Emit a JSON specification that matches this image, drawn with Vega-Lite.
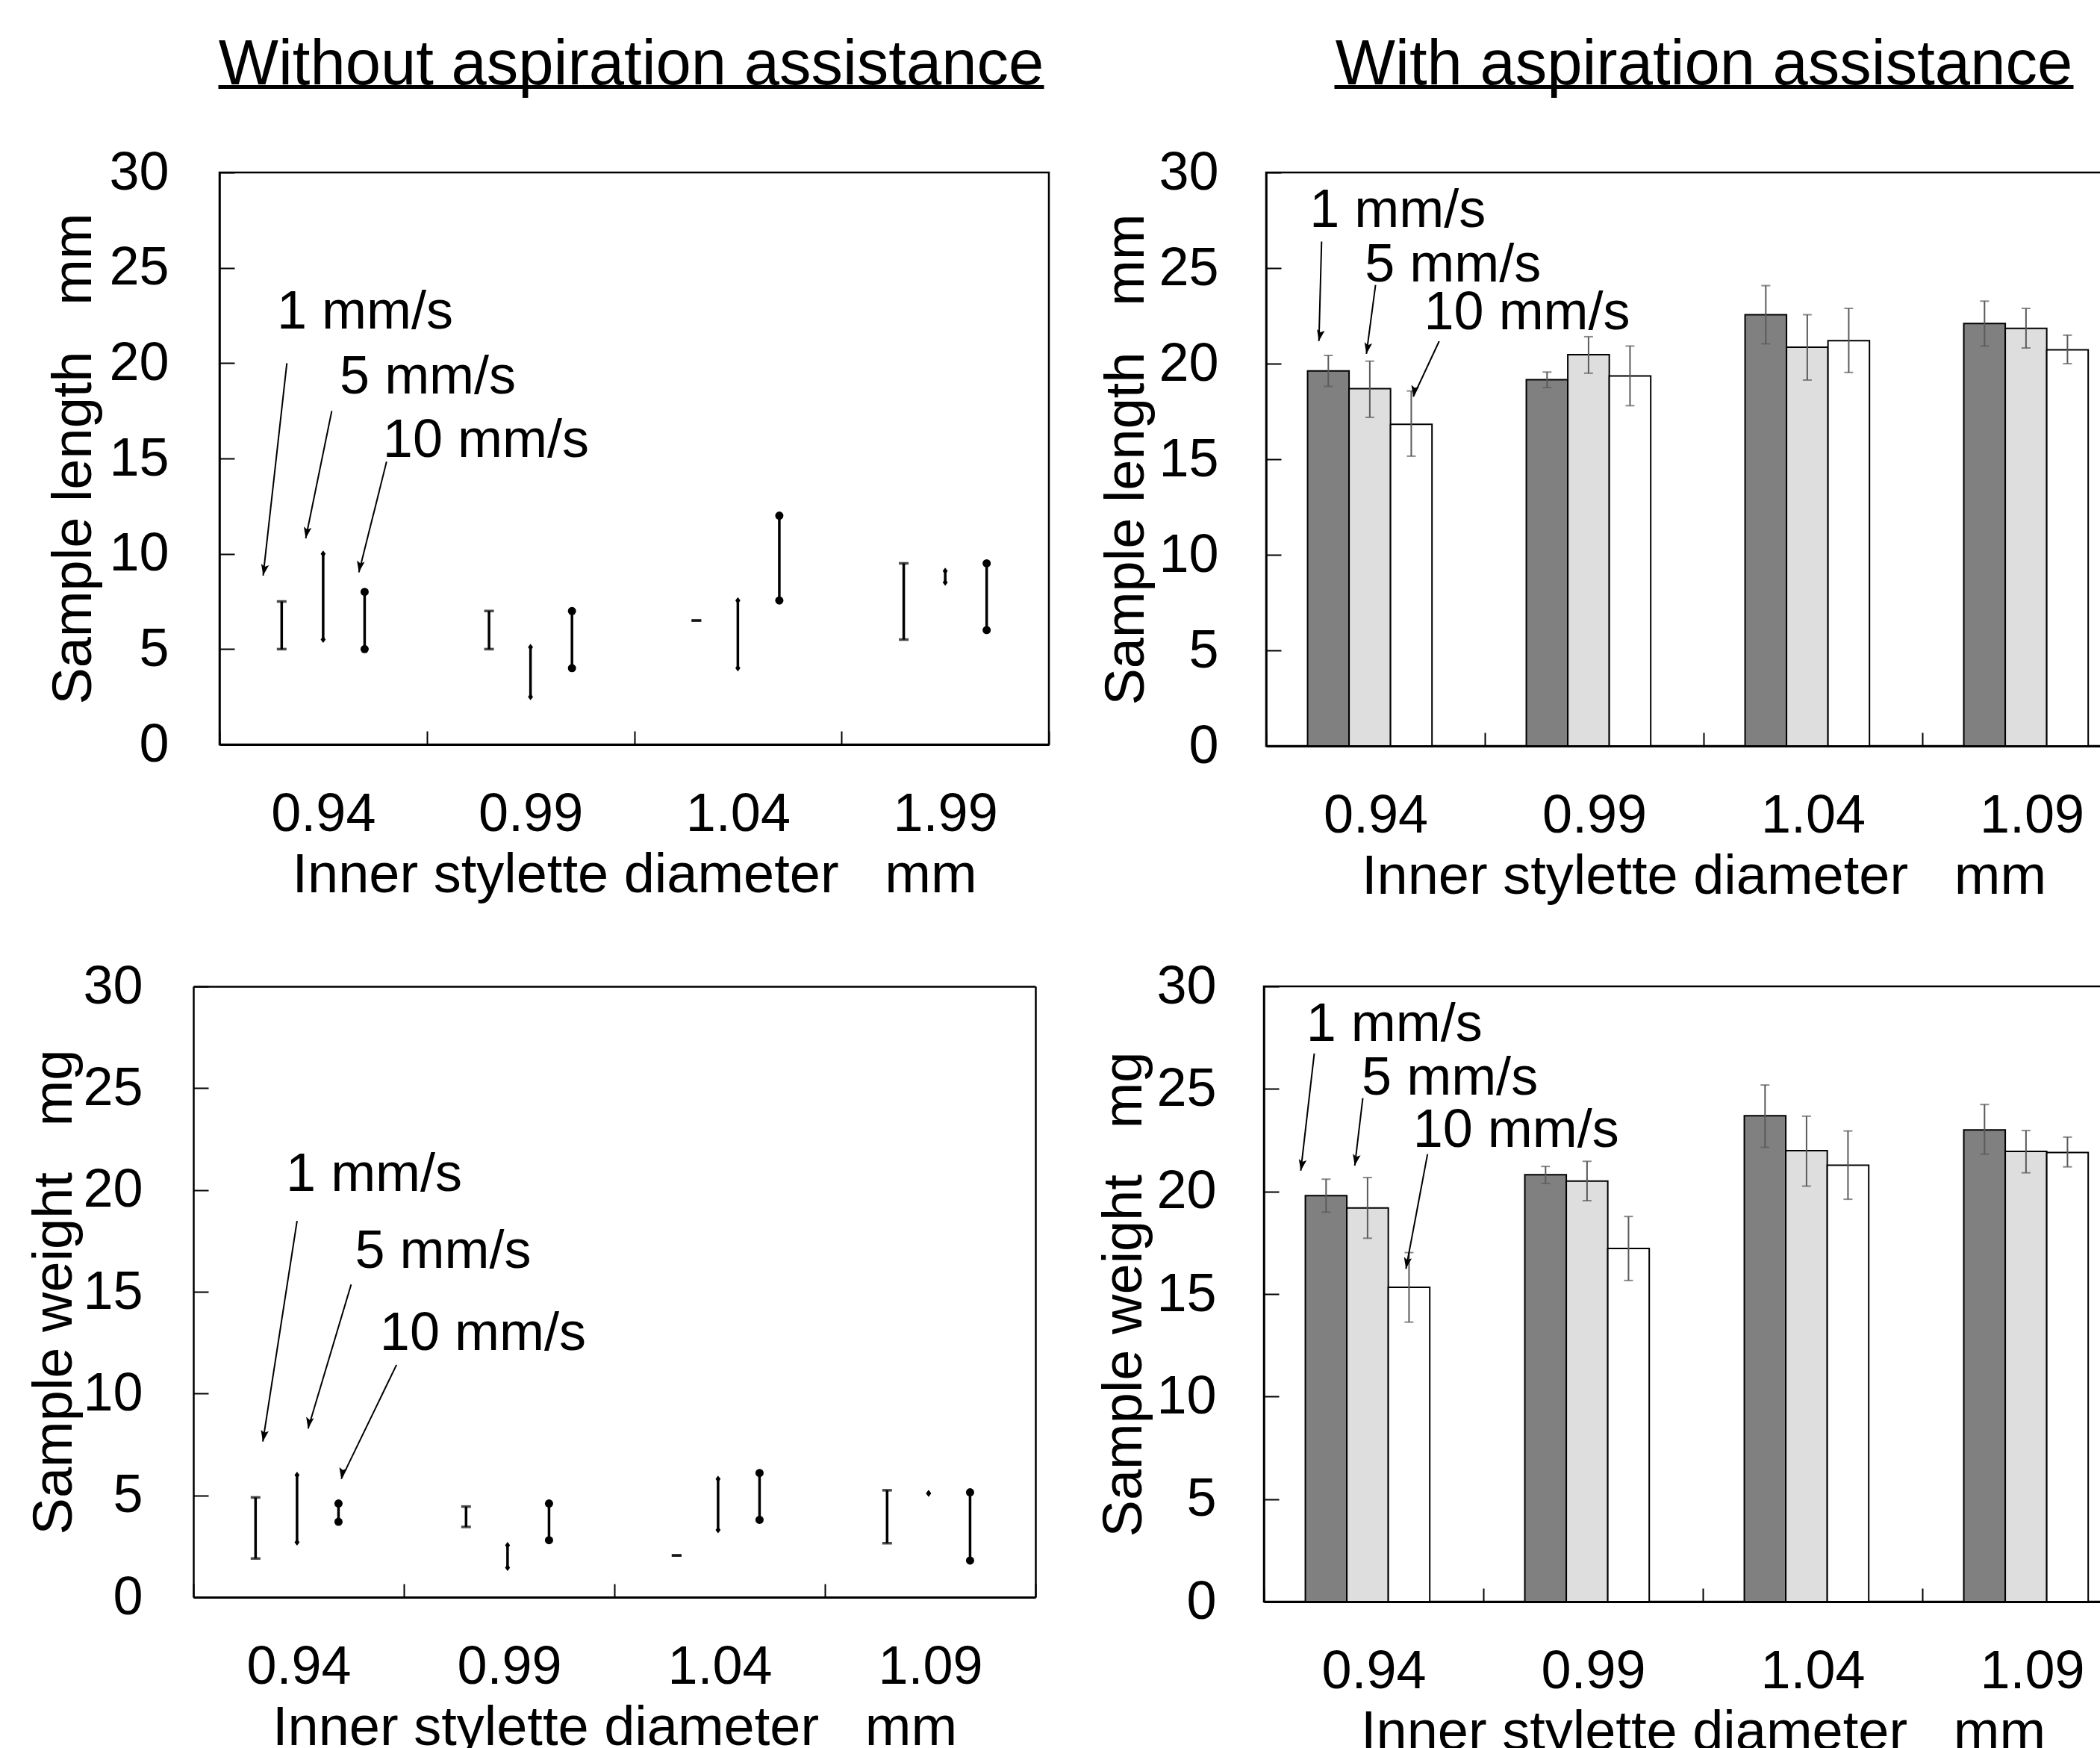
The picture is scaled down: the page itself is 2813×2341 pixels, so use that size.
{
  "$schema": "https://vega.github.io/schema/vega-lite/v6.json",
  "padding": {"left": 36, "top": 43, "right": 0, "bottom": 0},
  "background": "white",
  "datasets": {
    "lenNo": [
      {"d": "0.94", "s": 1, "lo": 5.0, "hi": 7.5},
      {"d": "0.94", "s": 5, "lo": 5.5, "hi": 10.0},
      {"d": "0.94", "s": 10, "lo": 5.0, "hi": 8.0},
      {"d": "0.99", "s": 1, "lo": 5.0, "hi": 7.0},
      {"d": "0.99", "s": 5, "lo": 2.5, "hi": 5.1},
      {"d": "0.99", "s": 10, "lo": 4.0, "hi": 7.0},
      {"d": "1.04", "s": 1, "lo": 6.5, "hi": 6.5},
      {"d": "1.04", "s": 5, "lo": 4.0, "hi": 7.55},
      {"d": "1.04", "s": 10, "lo": 7.55, "hi": 12.0},
      {"d": "1.99", "s": 1, "lo": 5.5, "hi": 9.5},
      {"d": "1.99", "s": 5, "lo": 8.5, "hi": 9.1},
      {"d": "1.99", "s": 10, "lo": 6.0, "hi": 9.5}
    ],
    "wtNo": [
      {"d": "0.94", "s": 1, "lo": 1.9, "hi": 4.9},
      {"d": "0.94", "s": 5, "lo": 2.7, "hi": 6.0},
      {"d": "0.94", "s": 10, "lo": 3.7, "hi": 4.6},
      {"d": "0.99", "s": 1, "lo": 3.45, "hi": 4.45},
      {"d": "0.99", "s": 5, "lo": 1.45, "hi": 2.55},
      {"d": "0.99", "s": 10, "lo": 2.8, "hi": 4.6},
      {"d": "1.04", "s": 1, "lo": 2.05, "hi": 2.05},
      {"d": "1.04", "s": 5, "lo": 3.3, "hi": 5.8},
      {"d": "1.04", "s": 10, "lo": 3.8, "hi": 6.1},
      {"d": "1.09", "s": 1, "lo": 2.65, "hi": 5.25},
      {"d": "1.09", "s": 5, "lo": 5.1, "hi": 5.1},
      {"d": "1.09", "s": 10, "lo": 1.8, "hi": 5.15}
    ],
    "lenWith": [
      {"d": "0.94", "s": 1, "mean": 19.62, "lo": 18.81, "hi": 20.43},
      {"d": "0.94", "s": 5, "mean": 18.69, "lo": 17.19, "hi": 20.13},
      {"d": "0.94", "s": 10, "mean": 16.83, "lo": 15.16, "hi": 18.57},
      {"d": "0.99", "s": 1, "mean": 19.16, "lo": 18.75, "hi": 19.56},
      {"d": "0.99", "s": 5, "mean": 20.47, "lo": 19.5, "hi": 21.41},
      {"d": "0.99", "s": 10, "mean": 19.36, "lo": 17.8, "hi": 20.92},
      {"d": "1.04", "s": 1, "mean": 22.56, "lo": 21.04, "hi": 24.08},
      {"d": "1.04", "s": 5, "mean": 20.86, "lo": 19.14, "hi": 22.56},
      {"d": "1.04", "s": 10, "mean": 21.2, "lo": 19.54, "hi": 22.89},
      {"d": "1.09", "s": 1, "mean": 22.1, "lo": 20.92, "hi": 23.27},
      {"d": "1.09", "s": 5, "mean": 21.85, "lo": 20.82, "hi": 22.89},
      {"d": "1.09", "s": 10, "mean": 20.72, "lo": 20.0, "hi": 21.49}
    ],
    "wtWith": [
      {"d": "0.94", "s": 1, "mean": 19.8, "lo": 18.99, "hi": 20.6},
      {"d": "0.94", "s": 5, "mean": 19.2, "lo": 17.72, "hi": 20.68},
      {"d": "0.94", "s": 10, "mean": 15.33, "lo": 13.63, "hi": 17.02},
      {"d": "0.99", "s": 1, "mean": 20.82, "lo": 20.39, "hi": 21.22},
      {"d": "0.99", "s": 5, "mean": 20.51, "lo": 19.55, "hi": 21.47},
      {"d": "0.99", "s": 10, "mean": 17.22, "lo": 15.66, "hi": 18.78},
      {"d": "1.04", "s": 1, "mean": 23.69, "lo": 22.15, "hi": 25.19},
      {"d": "1.04", "s": 5, "mean": 21.99, "lo": 20.26, "hi": 23.67},
      {"d": "1.04", "s": 10, "mean": 21.28, "lo": 19.62, "hi": 22.95},
      {"d": "1.09", "s": 1, "mean": 23.0, "lo": 21.82, "hi": 24.24},
      {"d": "1.09", "s": 5, "mean": 21.95, "lo": 20.91, "hi": 22.97},
      {"d": "1.09", "s": 10, "mean": 21.9, "lo": 21.2, "hi": 22.65}
    ],
    "annLenNo": [
      {"label": "1 mm/s", "tx": 0.277, "ty": 21.8, "ax1": 0.325, "ay1": 20.0, "ax2": 0.2105, "ay2": 8.86},
      {"label": "5 mm/s", "tx": 0.58, "ty": 18.4, "ax1": 0.5415, "ay1": 17.49, "ax2": 0.4159, "ay2": 10.81},
      {"label": "10 mm/s", "tx": 0.788, "ty": 15.08, "ax1": 0.8058, "ay1": 14.83, "ax2": 0.6722, "ay2": 9.03}
    ],
    "annWtNo": [
      {"label": "1 mm/s", "tx": 0.44, "ty": 19.96, "ax1": 0.4926, "ay1": 18.48, "ax2": 0.33, "ay2": 7.64},
      {"label": "5 mm/s", "tx": 0.768, "ty": 16.16, "ax1": 0.7496, "ay1": 15.36, "ax2": 0.545, "ay2": 8.28},
      {"label": "10 mm/s", "tx": 0.886, "ty": 12.15, "ax1": 0.965, "ay1": 11.41, "ax2": 0.7025, "ay2": 5.81}
    ],
    "annLenWith": [
      {"label": "1 mm/s", "tx": 0.199, "ty": 27.16, "ax1": 0.2536, "ay1": 26.39, "ax2": 0.2413, "ay2": 21.18},
      {"label": "5 mm/s", "tx": 0.451, "ty": 24.28, "ax1": 0.5003, "ay1": 24.12, "ax2": 0.4584, "ay2": 20.51},
      {"label": "10 mm/s", "tx": 0.722, "ty": 21.78, "ax1": 0.791, "ay1": 21.17, "ax2": 0.6727, "ay2": 18.27}
    ],
    "annWtWith": [
      {"label": "1 mm/s", "tx": 0.193, "ty": 27.36, "ax1": 0.2296, "ay1": 26.73, "ax2": 0.168, "ay2": 21.01},
      {"label": "5 mm/s", "tx": 0.446, "ty": 24.71, "ax1": 0.4507, "ay1": 24.55, "ax2": 0.414, "ay2": 21.26},
      {"label": "10 mm/s", "tx": 0.679, "ty": 22.16, "ax1": 0.7456, "ay1": 21.82, "ax2": 0.6473, "ay2": 16.23}
    ]
  },
  "spacing": 70,
  "vconcat": [
    {
      "spacing": 63,
      "hconcat": [
        {
          "width": 1111, "height": 766,
          "layer": [
            {
              "data": {"name": "lenNo"},
              "encoding": {
                "x": {"field": "d", "type": "nominal", "scale": {"domain": ["0.94", "0.99", "1.04", "1.99"], "paddingInner": 0, "paddingOuter": 0},
                  "axis": {"title": "Inner stylette diameter\u00a0\u00a0\u00a0mm", "labelAngle": 0, "labelFontSize": 72, "titleFontSize": 74, "tickBand": "extent", "tickSize": -18, "tickWidth": 2, "domainWidth": 3, "labelPadding": 76, "titlePadding": 10}},
                "xOffset": {"field": "s", "type": "nominal", "scale": {"domain": [1, 5, 10], "paddingInner": 0, "paddingOuter": 1.1}}
              },
              "layer": [
                {"mark": {"type": "rule", "color": "black", "strokeWidth": 3.5},
                 "encoding": {"y": {"field": "lo", "type": "quantitative", "scale": {"domain": [0, 30]},
                   "axis": {"values": [0, 5, 10, 15, 20, 25, 30], "title": "Sample length\u00a0\u00a0\u00a0mm", "labelFontSize": 72, "titleFontSize": 74, "tickSize": -20, "tickWidth": 2, "domainWidth": 2.5, "labelPadding": 88, "titlePadding": 8}},
                   "y2": {"field": "hi"}}},
                {"transform": [{"filter": "datum.s == 1"}], "mark": {"type": "tick", "color": "black", "size": 13, "thickness": 3.5},
                 "encoding": {"y": {"field": "lo", "type": "quantitative", "scale": {"domain": [0, 30]}}}},
                {"transform": [{"filter": "datum.s == 1"}], "mark": {"type": "tick", "color": "black", "size": 13, "thickness": 3.5},
                 "encoding": {"y": {"field": "hi", "type": "quantitative", "scale": {"domain": [0, 30]}}}},
                {"transform": [{"filter": "datum.s == 5"}], "mark": {"type": "point", "shape": "M0,-1L0.75,0L0,1L-0.75,0Z", "filled": true, "color": "black", "opacity": 1, "size": 81},
                 "encoding": {"y": {"field": "lo", "type": "quantitative", "scale": {"domain": [0, 30]}}}},
                {"transform": [{"filter": "datum.s == 5"}], "mark": {"type": "point", "shape": "M0,-1L0.75,0L0,1L-0.75,0Z", "filled": true, "color": "black", "opacity": 1, "size": 81},
                 "encoding": {"y": {"field": "hi", "type": "quantitative", "scale": {"domain": [0, 30]}}}},
                {"transform": [{"filter": "datum.s == 10"}], "mark": {"type": "point", "shape": "circle", "filled": true, "color": "black", "opacity": 1, "size": 121},
                 "encoding": {"y": {"field": "lo", "type": "quantitative", "scale": {"domain": [0, 30]}}}},
                {"transform": [{"filter": "datum.s == 10"}], "mark": {"type": "point", "shape": "circle", "filled": true, "color": "black", "opacity": 1, "size": 121},
                 "encoding": {"y": {"field": "hi", "type": "quantitative", "scale": {"domain": [0, 30]}}}}
              ]
            },
            {
              "data": {"name": "annLenNo"},
              "layer": [
                {"mark": {"type": "text", "align": "left", "baseline": "alphabetic", "fontSize": 72, "color": "black"},
                 "encoding": {
                   "x": {"field": "tx", "type": "quantitative", "scale": {"domain": [-0.0072, 3.9748], "range": [-2, 1104], "nice": false, "zero": false},
                     "axis": {"orient": "top", "offset": 115, "domainWidth": 5, "ticks": false, "labels": false, "title": "Without aspiration assistance", "titleFontSize": 85, "titleBaseline": "alphabetic", "titlePadding": 3.5}},
                   "y": {"field": "ty", "type": "quantitative", "scale": {"domain": [0, 30]}},
                   "text": {"field": "label"}}},
                {"mark": {"type": "rule", "color": "black", "strokeWidth": 2},
                 "encoding": {
                   "x": {"field": "ax1", "type": "quantitative", "scale": {"domain": [-0.0072, 3.9748], "range": [-2, 1104], "nice": false, "zero": false}},
                   "x2": {"field": "ax2"},
                   "y": {"field": "ay1", "type": "quantitative", "scale": {"domain": [0, 30]}},
                   "y2": {"field": "ay2"}}},
                {"mark": {"type": "point", "shape": "M0,0L-0.35,-1L0,-0.8L0.35,-1Z", "filled": true, "color": "black", "opacity": 1, "size": 900, "angle": 10},
                 "encoding": {
                   "x": {"field": "ax2", "type": "quantitative", "scale": {"domain": [-0.0072, 3.9748], "range": [-2, 1104], "nice": false, "zero": false}},
                   "y": {"field": "ay2", "type": "quantitative", "scale": {"domain": [0, 30]}}}}
              ]
            }
          ],
          "resolve": {"scale": {"x": "independent"}, "axis": {"x": "independent"}}
        },
        {
          "width": 1172, "height": 768,
          "layer": [
            {
              "data": {"name": "lenWith"},
              "encoding": {
                "x": {"field": "d", "type": "nominal", "scale": {"domain": ["0.94", "0.99", "1.04", "1.09"], "paddingInner": 0, "paddingOuter": 0},
                  "axis": {"title": "Inner stylette diameter\u00a0\u00a0\u00a0mm", "labelAngle": 0, "labelFontSize": 72, "titleFontSize": 74, "tickBand": "extent", "tickSize": -18, "tickWidth": 2, "domainWidth": 3, "labelPadding": 76, "titlePadding": 10}},
                "xOffset": {"field": "s", "type": "nominal", "scale": {"domain": [1, 5, 10], "paddingInner": 0, "paddingOuter": 1.1}}
              },
              "layer": [
                {"mark": {"type": "bar", "stroke": "black", "strokeWidth": 2},
                 "encoding": {
                   "y": {"field": "mean", "type": "quantitative", "scale": {"domain": [0, 30]},
                     "axis": {"values": [0, 5, 10, 15, 20, 25, 30], "title": "Sample length\u00a0\u00a0\u00a0mm", "labelFontSize": 72, "titleFontSize": 74, "tickSize": -20, "tickWidth": 2, "domainWidth": 2.5, "labelPadding": 84, "titlePadding": 4}},
                   "fill": {"field": "s", "type": "nominal", "scale": {"domain": [1, 5, 10], "range": ["#808080", "#dedede", "#ffffff"]}, "legend": null}}},
                {"mark": {"type": "rule", "color": "#5a5a5a", "strokeWidth": 2},
                 "encoding": {"y": {"field": "lo", "type": "quantitative", "scale": {"domain": [0, 30]}}, "y2": {"field": "hi"}}},
                {"mark": {"type": "tick", "color": "#5a5a5a", "size": 12, "thickness": 2},
                 "encoding": {"y": {"field": "lo", "type": "quantitative", "scale": {"domain": [0, 30]}}}},
                {"mark": {"type": "tick", "color": "#5a5a5a", "size": 12, "thickness": 2},
                 "encoding": {"y": {"field": "hi", "type": "quantitative", "scale": {"domain": [0, 30]}}}}
              ]
            },
            {
              "data": {"name": "annLenWith"},
              "layer": [
                {"mark": {"type": "text", "align": "left", "baseline": "alphabetic", "fontSize": 72, "color": "black"},
                 "encoding": {
                   "x": {"field": "tx", "type": "quantitative", "scale": {"domain": [0.3106, 3.6894], "range": [91, 1081], "nice": false, "zero": false},
                     "axis": {"orient": "top", "offset": 115, "domainWidth": 5, "ticks": false, "labels": false, "title": "With aspiration assistance", "titleFontSize": 85, "titleBaseline": "alphabetic", "titlePadding": 3.5}},
                   "y": {"field": "ty", "type": "quantitative", "scale": {"domain": [0, 30]}},
                   "text": {"field": "label"}}},
                {"mark": {"type": "rule", "color": "black", "strokeWidth": 2},
                 "encoding": {
                   "x": {"field": "ax1", "type": "quantitative", "scale": {"domain": [0.3106, 3.6894], "range": [91, 1081], "nice": false, "zero": false}},
                   "x2": {"field": "ax2"},
                   "y": {"field": "ay1", "type": "quantitative", "scale": {"domain": [0, 30]}},
                   "y2": {"field": "ay2"}}},
                {"mark": {"type": "point", "shape": "M0,0L-0.35,-1L0,-0.8L0.35,-1Z", "filled": true, "color": "black", "opacity": 1, "size": 900, "angle": 10},
                 "encoding": {
                   "x": {"field": "ax2", "type": "quantitative", "scale": {"domain": [0.3106, 3.6894], "range": [91, 1081], "nice": false, "zero": false}},
                   "y": {"field": "ay2", "type": "quantitative", "scale": {"domain": [0, 30]}}}}
              ]
            }
          ],
          "resolve": {"scale": {"x": "independent"}, "axis": {"x": "independent"}}
        }
      ]
    },
    {
      "spacing": 46,
      "hconcat": [
        {
          "width": 1093, "height": 818,
          "view": {"stroke": null},
          "layer": [
            {
              "data": {"name": "wtNo"},
              "encoding": {
                "x": {"field": "d", "type": "nominal", "scale": {"domain": ["0.94", "0.99", "1.04", "1.09"], "range": [-35, 1093], "paddingInner": 0, "paddingOuter": 0},
                  "axis": {"title": "Inner stylette diameter\u00a0\u00a0\u00a0mm", "labelAngle": 0, "labelFontSize": 72, "titleFontSize": 74, "tickBand": "extent", "tickSize": -18, "tickWidth": 2, "domainWidth": 3, "labelPadding": 76, "titlePadding": 10}},
                "xOffset": {"field": "s", "type": "nominal", "scale": {"domain": [1, 5, 10], "paddingInner": 0, "paddingOuter": 1.1}}
              },
              "layer": [
                {"mark": {"type": "rule", "color": "black", "strokeWidth": 3.5},
                 "encoding": {"y": {"field": "lo", "type": "quantitative", "scale": {"domain": [0, 30]},
                   "axis": {"offset": 35, "values": [0, 5, 10, 15, 20, 25, 30], "title": "Sample weight\u00a0\u00a0\u00a0mg", "labelFontSize": 72, "titleFontSize": 74, "tickSize": -20, "tickWidth": 2, "domainWidth": 2.5, "labelPadding": 88, "titlePadding": -1}},
                   "y2": {"field": "hi"}}},
                {"transform": [{"filter": "datum.s == 1"}], "mark": {"type": "tick", "color": "black", "size": 13, "thickness": 3.5},
                 "encoding": {"y": {"field": "lo", "type": "quantitative", "scale": {"domain": [0, 30]}}}},
                {"transform": [{"filter": "datum.s == 1"}], "mark": {"type": "tick", "color": "black", "size": 13, "thickness": 3.5},
                 "encoding": {"y": {"field": "hi", "type": "quantitative", "scale": {"domain": [0, 30]}}}},
                {"transform": [{"filter": "datum.s == 5"}], "mark": {"type": "point", "shape": "M0,-1L0.75,0L0,1L-0.75,0Z", "filled": true, "color": "black", "opacity": 1, "size": 81},
                 "encoding": {"y": {"field": "lo", "type": "quantitative", "scale": {"domain": [0, 30]}}}},
                {"transform": [{"filter": "datum.s == 5"}], "mark": {"type": "point", "shape": "M0,-1L0.75,0L0,1L-0.75,0Z", "filled": true, "color": "black", "opacity": 1, "size": 81},
                 "encoding": {"y": {"field": "hi", "type": "quantitative", "scale": {"domain": [0, 30]}}}},
                {"transform": [{"filter": "datum.s == 10"}], "mark": {"type": "point", "shape": "circle", "filled": true, "color": "black", "opacity": 1, "size": 121},
                 "encoding": {"y": {"field": "lo", "type": "quantitative", "scale": {"domain": [0, 30]}}}},
                {"transform": [{"filter": "datum.s == 10"}], "mark": {"type": "point", "shape": "circle", "filled": true, "color": "black", "opacity": 1, "size": 121},
                 "encoding": {"y": {"field": "hi", "type": "quantitative", "scale": {"domain": [0, 30]}}}}
              ]
            },
            {
              "data": {"name": "annWtNo"},
              "layer": [
                {"mark": {"type": "text", "align": "left", "baseline": "alphabetic", "fontSize": 72, "color": "black"},
                 "encoding": {
                   "x": {"field": "tx", "type": "quantitative", "scale": {"domain": [0, 4], "range": [-35, 1093], "nice": false, "zero": false},
                     "axis": {"orient": "top", "offset": 0, "domainWidth": 2.5, "ticks": false, "labels": false, "title": null, "grid": false}},
                   "y": {"field": "ty", "type": "quantitative", "scale": {"domain": [0, 30]},
                     "axis": {"orient": "right", "offset": 0, "domainWidth": 2.5, "ticks": false, "labels": false, "title": null, "grid": false}},
                   "text": {"field": "label"}}},
                {"mark": {"type": "rule", "color": "black", "strokeWidth": 2},
                 "encoding": {
                   "x": {"field": "ax1", "type": "quantitative", "scale": {"domain": [0, 4], "range": [-35, 1093], "nice": false, "zero": false}},
                   "x2": {"field": "ax2"},
                   "y": {"field": "ay1", "type": "quantitative", "scale": {"domain": [0, 30]}},
                   "y2": {"field": "ay2"}}},
                {"mark": {"type": "point", "shape": "M0,0L-0.35,-1L0,-0.8L0.35,-1Z", "filled": true, "color": "black", "opacity": 1, "size": 900, "angle": 10},
                 "encoding": {
                   "x": {"field": "ax2", "type": "quantitative", "scale": {"domain": [0, 4], "range": [-35, 1093], "nice": false, "zero": false}},
                   "y": {"field": "ay2", "type": "quantitative", "scale": {"domain": [0, 30]}}}}
              ]
            }
          ],
          "resolve": {"scale": {"x": "independent", "y": "independent"}, "axis": {"x": "independent", "y": "independent"}}
        },
        {
          "width": 1176, "height": 824,
          "layer": [
            {
              "data": {"name": "wtWith"},
              "encoding": {
                "x": {"field": "d", "type": "nominal", "scale": {"domain": ["0.94", "0.99", "1.04", "1.09"], "paddingInner": 0, "paddingOuter": 0},
                  "axis": {"title": "Inner stylette diameter\u00a0\u00a0\u00a0mm", "labelAngle": 0, "labelFontSize": 72, "titleFontSize": 74, "tickBand": "extent", "tickSize": -18, "tickWidth": 2, "domainWidth": 3, "labelPadding": 76, "titlePadding": 10}},
                "xOffset": {"field": "s", "type": "nominal", "scale": {"domain": [1, 5, 10], "paddingInner": 0, "paddingOuter": 1.1}}
              },
              "layer": [
                {"mark": {"type": "bar", "stroke": "black", "strokeWidth": 2},
                 "encoding": {
                   "y": {"field": "mean", "type": "quantitative", "scale": {"domain": [0, 30]},
                     "axis": {"values": [0, 5, 10, 15, 20, 25, 30], "title": "Sample weight\u00a0\u00a0\u00a0mg", "labelFontSize": 72, "titleFontSize": 74, "tickSize": -20, "tickWidth": 2, "domainWidth": 2.5, "labelPadding": 84, "titlePadding": 4}},
                   "fill": {"field": "s", "type": "nominal", "scale": {"domain": [1, 5, 10], "range": ["#808080", "#dedede", "#ffffff"]}, "legend": null}}},
                {"mark": {"type": "rule", "color": "#5a5a5a", "strokeWidth": 2},
                 "encoding": {"y": {"field": "lo", "type": "quantitative", "scale": {"domain": [0, 30]}}, "y2": {"field": "hi"}}},
                {"mark": {"type": "tick", "color": "#5a5a5a", "size": 12, "thickness": 2},
                 "encoding": {"y": {"field": "lo", "type": "quantitative", "scale": {"domain": [0, 30]}}}},
                {"mark": {"type": "tick", "color": "#5a5a5a", "size": 12, "thickness": 2},
                 "encoding": {"y": {"field": "hi", "type": "quantitative", "scale": {"domain": [0, 30]}}}}
              ]
            },
            {
              "data": {"name": "annWtWith"},
              "layer": [
                {"mark": {"type": "text", "align": "left", "baseline": "alphabetic", "fontSize": 72, "color": "black"},
                 "encoding": {
                   "x": {"field": "tx", "type": "quantitative", "scale": {"domain": [0, 4], "nice": false, "zero": false}, "axis": null},
                   "y": {"field": "ty", "type": "quantitative", "scale": {"domain": [0, 30]}},
                   "text": {"field": "label"}}},
                {"mark": {"type": "rule", "color": "black", "strokeWidth": 2},
                 "encoding": {
                   "x": {"field": "ax1", "type": "quantitative", "scale": {"domain": [0, 4], "nice": false, "zero": false}, "axis": null},
                   "x2": {"field": "ax2"},
                   "y": {"field": "ay1", "type": "quantitative", "scale": {"domain": [0, 30]}},
                   "y2": {"field": "ay2"}}},
                {"mark": {"type": "point", "shape": "M0,0L-0.35,-1L0,-0.8L0.35,-1Z", "filled": true, "color": "black", "opacity": 1, "size": 900, "angle": 10},
                 "encoding": {
                   "x": {"field": "ax2", "type": "quantitative", "scale": {"domain": [0, 4], "nice": false, "zero": false}, "axis": null},
                   "y": {"field": "ay2", "type": "quantitative", "scale": {"domain": [0, 30]}}}}
              ]
            }
          ],
          "resolve": {"scale": {"x": "independent"}, "axis": {"x": "independent"}}
        }
      ]
    }
  ],
  "config": {
    "font": "Liberation Sans",
    "view": {"stroke": "black", "strokeWidth": 2.5},
    "axis": {"labelColor": "black", "titleColor": "black", "domainColor": "black", "tickColor": "black", "titleFontWeight": "normal", "grid": false, "labelFont": "Liberation Sans", "titleFont": "Liberation Sans"}
  }
}
